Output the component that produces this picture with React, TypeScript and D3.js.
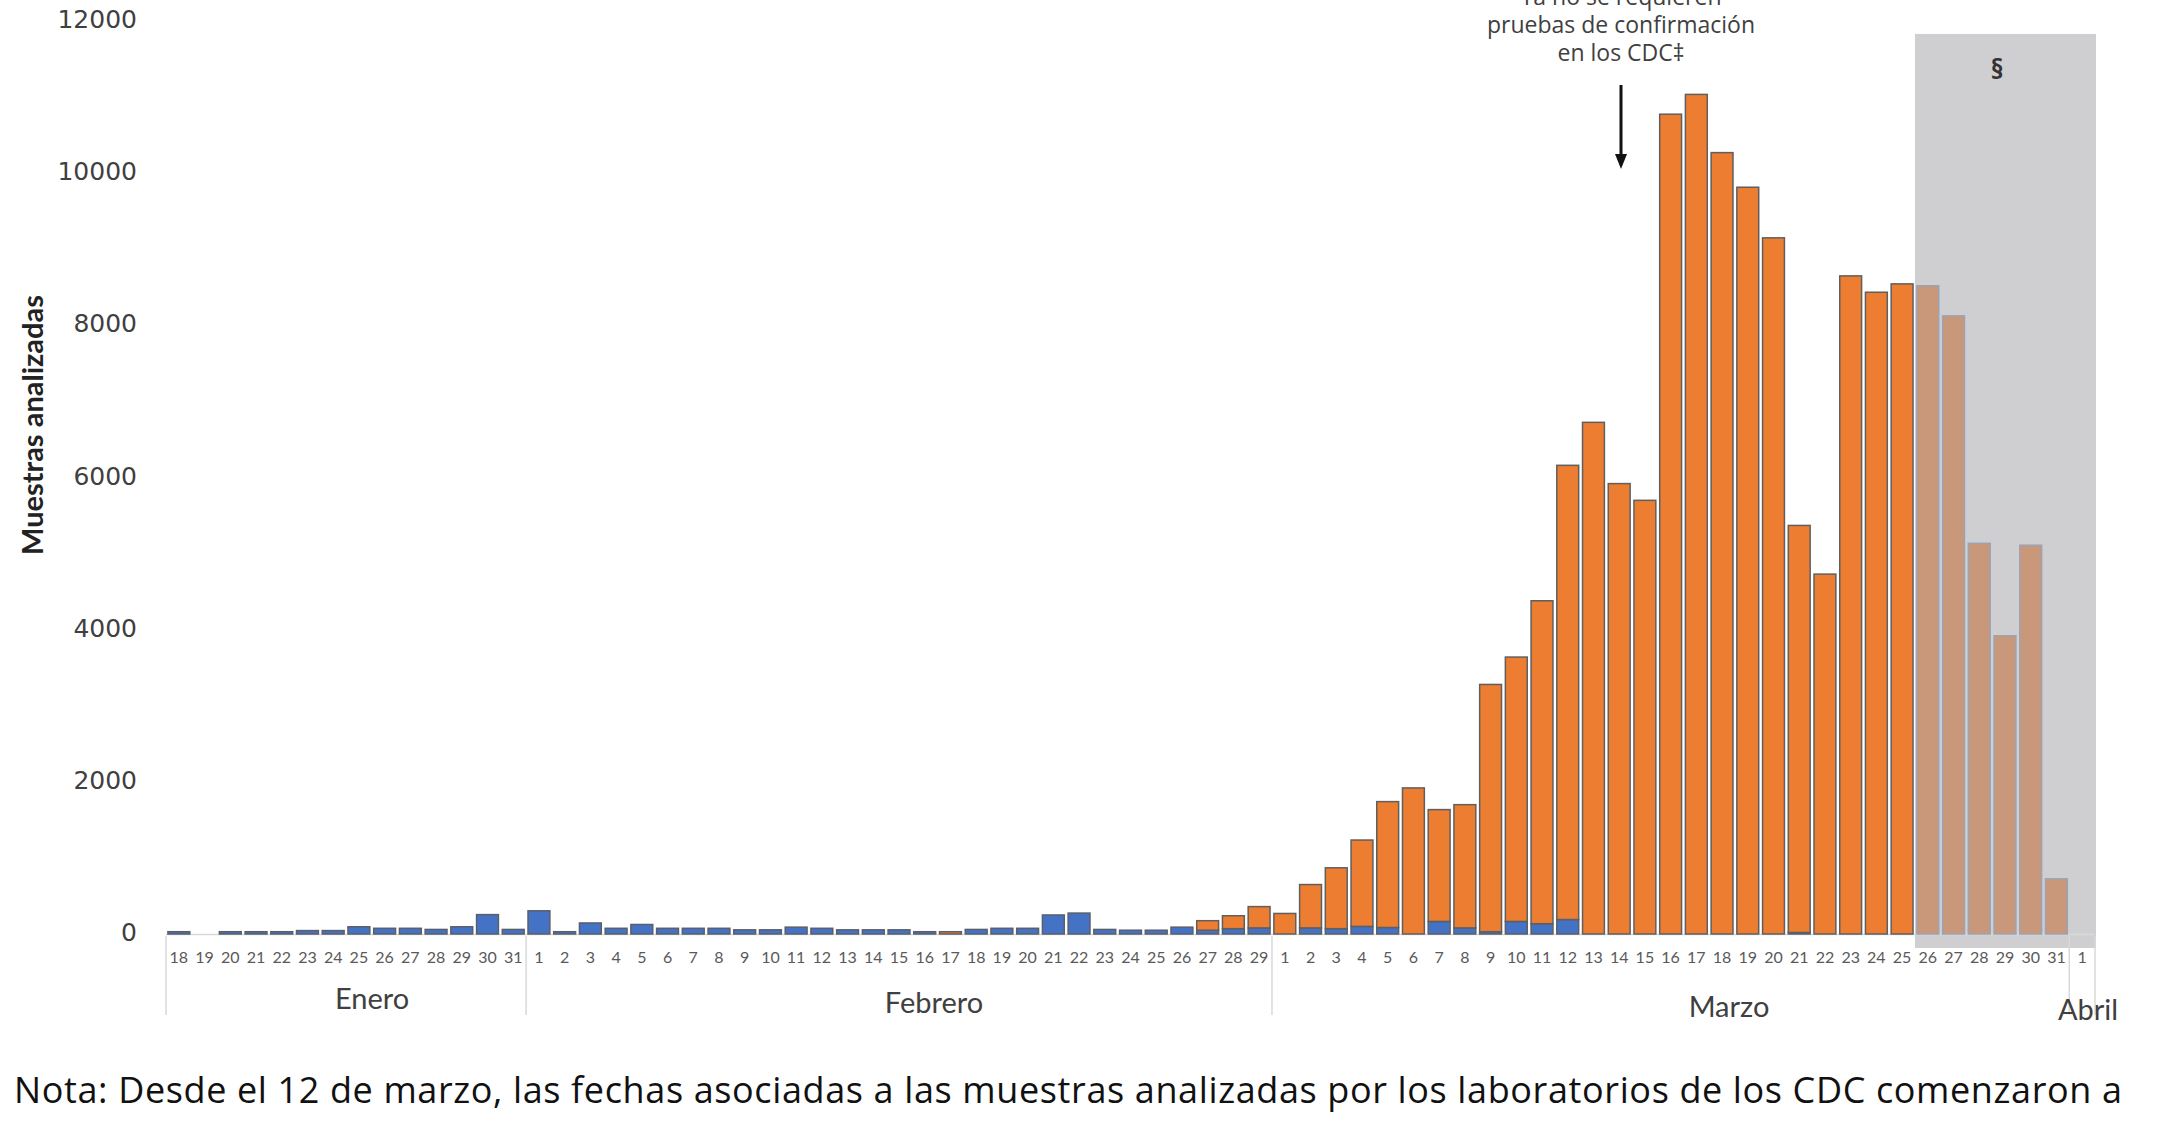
import * as d3 from 'd3';

// day labels: Jan 18 – Apr 1
const janDays = d3.range(18, 32).map(String);
const febDays = d3.range(1, 30).map(String);
const marDays = d3.range(1, 32).map(String);
const aprDays = ['1'];
const dayLabels = [...janDays, ...febDays, ...marDays, ...aprDays];

const monthNames = ['Enero', 'Febrero', 'Marzo', 'Abril'];
const monthSizes = [janDays.length, febDays.length, marDays.length, aprDays.length];

// blue series (bottom of stack)
const cdcLabs = [
  30, 0, 30, 30, 30, 45, 45, 95, 75, 75, 60, 95, 255, 60,
  305, 30, 145, 75, 125, 75, 75, 75, 55, 55, 90, 75, 55, 55, 55, 30, 0, 60, 75, 75, 250, 275, 60, 50, 50, 90, 50, 70, 80,
  0, 80, 70, 100, 85, 0, 165, 80, 30, 165, 135, 190, 0, 0, 0, 0, 0, 0, 0, 0, 20, 0, 0, 0, 0, 0, 0, 0, 0, 0, 0,
  0,
];

// orange series (top of stack)
const publicHealthLabs = [
  0, 0, 0, 0, 0, 0, 0, 0, 0, 0, 0, 0, 0, 0,
  0, 0, 0, 0, 0, 0, 0, 0, 0, 0, 0, 0, 0, 0, 0, 0, 30, 0, 0, 0, 0, 0, 0, 0, 0, 0, 125, 170, 280,
  270, 570, 800, 1135, 1655, 1920, 1470, 1620, 3250, 3475, 4245, 5970, 6725, 5920, 5700, 10775, 11035, 10270, 9815,
  9150, 5350, 4730, 8650, 8435, 8545, 8520, 8125, 5135, 3920, 5110, 725,
  0,
];

const yTicks = [0, 2000, 4000, 6000, 8000, 10000, 12000];

// shaded (incomplete) period: Mar 26 – Apr 1
const shadeStart = janDays.length + febDays.length + 25;
const shadeTop = 11830;

const annotationLines = ['Ya no se requieren', 'pruebas de confirmación', 'en los CDC‡'];
const noteText =
  'Nota: Desde el 12 de marzo, las fechas asociadas a las muestras analizadas por los laboratorios de los CDC comenzaron a';

const W = 2161;
const H = 1124;

export default function App() {
  const idx = dayLabels.map((_, i) => i);
  const x = d3.scaleBand<number>().domain(idx).range([166, 2095]).paddingInner(0.15).paddingOuter(0.075);
  const y = d3.scaleLinear().domain([0, 12000]).range([934, 21]);
  const step = x.step();
  const bw = x.bandwidth();

  const chartFont = 'Lato, "Open Sans", sans-serif';

  // month group boundaries
  const bounds: number[] = [0];
  monthSizes.forEach((n, i) => bounds.push(bounds[i] + n));
  const boundX = (k: number) => x.range()[0] + k * step;

  const monthLabelPos = [
    { x: 372, y: 1002 },
    { x: 934, y: 1006 },
    { x: 1729, y: 1010 },
    { x: 2088, y: 1013 },
  ];

  const shadeX0 = (x(shadeStart) as number) - step * 0.075;
  const arrowX = 1621;

  return (
    <svg width={W} height={H} style={{ position: 'absolute', left: 0, top: 0, background: '#fff' }}>
      {/* shaded period */}
      <rect x={shadeX0} y={y(shadeTop)} width={2096 - shadeX0} height={948 - y(shadeTop)} fill="#cfcfd1" />
      <text x={1997} y={72} textAnchor="middle" dominantBaseline="middle" fontFamily='"Open Sans", sans-serif' fontWeight={700} fontSize={26} fill="#333">§</text>

      {/* baseline */}
      <line x1={166} x2={2095} y1={y(0) + 0.5} y2={y(0) + 0.5} stroke="#d9d9d9" strokeWidth={1.5} />

      {/* bars */}
      {idx.map((i) => {
        const shaded = i >= shadeStart;
        const b = cdcLabs[i];
        const o = publicHealthLabs[i];
        const x0 = x(i) as number;
        return (
          <g key={i}>
            {b > 0 && (
              <rect x={x0} y={y(b)} width={bw} height={y(0) - y(b)}
                fill={shaded ? '#8f9bbf' : '#4472c4'} stroke={shaded ? '#9ca3b3' : '#5a5f6b'} strokeWidth={1.5} />
            )}
            {o > 0 && (
              <rect x={x0} y={y(b + o)} width={bw} height={y(b) - y(b + o)}
                fill={shaded ? '#c9977a' : '#ed7d31'} stroke={shaded ? '#9ca3b3' : '#5f5f5f'} strokeWidth={1.5} />
            )}
          </g>
        );
      })}

      {/* y axis labels */}
      {yTicks.map((t) => (
        <text key={t} x={137} y={y(t)} textAnchor="end" dominantBaseline="middle"
          fontFamily='"DejaVu Sans", sans-serif' fontSize={25} fill="#404040">{t}</text>
      ))}
      <text transform="translate(36,425) rotate(-90)" textAnchor="middle" dominantBaseline="middle"
        fontFamily={chartFont} fontWeight={700} fontSize={29} fill="#222">Muestras analizadas</text>

      {/* day labels */}
      {idx.map((i) => (
        <text key={i} x={(x(i) as number) + bw / 2} y={959} textAnchor="middle" dominantBaseline="middle"
          fontFamily={chartFont} fontSize={16} fill="#595959">{dayLabels[i]}</text>
      ))}

      {/* month separators */}
      {bounds.map((k, i) => (
        <line key={i} x1={boundX(k)} x2={boundX(k)} y1={936} y2={1015} stroke="#d9d9d9" strokeWidth={1.5} />
      ))}
      {monthNames.map((m, i) => (
        <text key={m} x={monthLabelPos[i].x} y={monthLabelPos[i].y} textAnchor="middle" dominantBaseline="middle"
          fontFamily={chartFont} fontSize={29} fill="#404040">{m}</text>
      ))}

      {/* annotation */}
      {annotationLines.map((l, i) => (
        <text key={i} x={1621} y={-1 + i * 28} textAnchor="middle" dominantBaseline="middle"
          fontFamily='"Open Sans", sans-serif' fontSize={23} fill="#404040">{l}</text>
      ))}
      <line x1={arrowX} x2={arrowX} y1={85} y2={156} stroke="#111" strokeWidth={3} />
      <path d={`M${arrowX - 6},${154} L${arrowX + 6},${154} L${arrowX},${169} Z`} fill="#111" />

      {/* note */}
      <text x={14} y={1103} fontFamily='"Open Sans", sans-serif' fontSize={36} fill="#111"
        textLength={2108} lengthAdjust="spacing">{noteText}</text>
    </svg>
  );
}
